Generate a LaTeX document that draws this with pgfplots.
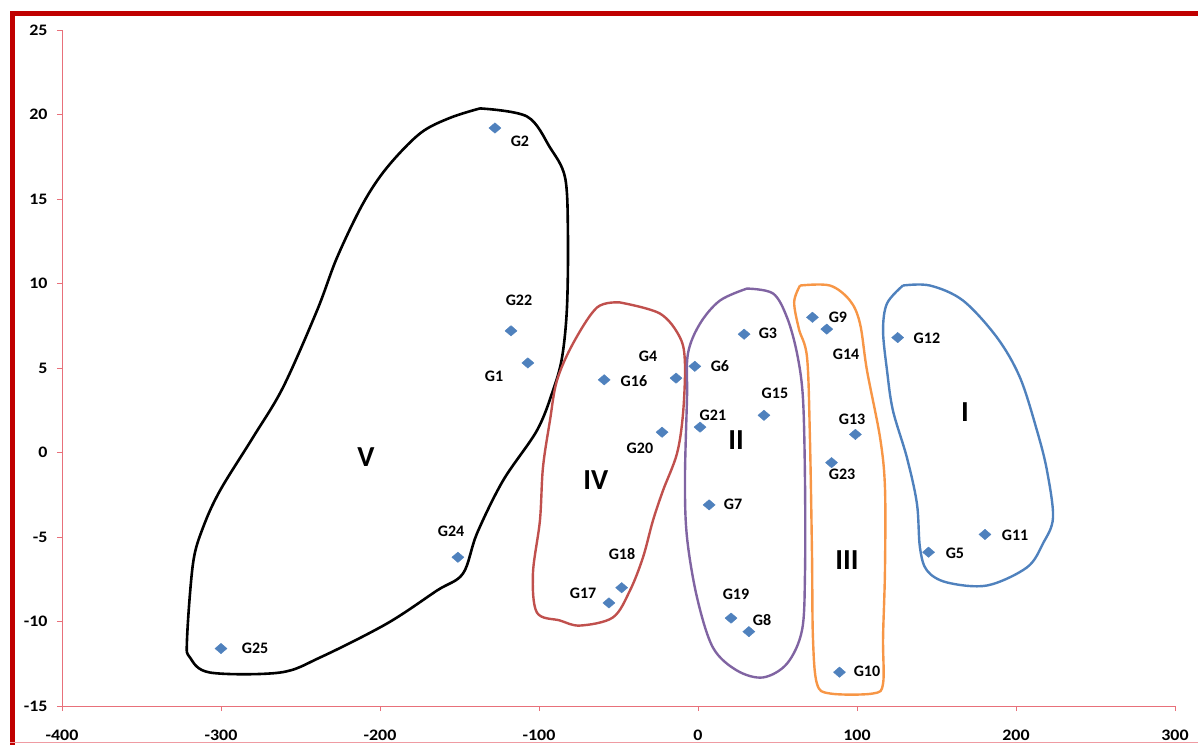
\documentclass[border=0pt]{standalone}
\usepackage{fontspec}
\setmainfont{Carlito}
\usepackage{pgfplots}
\pgfplotsset{compat=1.18}
\definecolor{ptblue}{HTML}{4F81BD}
\definecolor{cred}{HTML}{C0504D}
\definecolor{cpurple}{HTML}{8064A2}
\definecolor{corange}{HTML}{F79646}
\definecolor{cblue}{HTML}{4F81BD}
\definecolor{axred}{HTML}{E8707A}
\definecolor{frame}{HTML}{C00000}
\begin{document}
\begin{tikzpicture}
\useasboundingbox (-62bp,-39bp) rectangle (1136bp,706bp);
\draw[frame, line width=5bp] (-49.5bp,-60bp) -- (-49.5bp,692.5bp) -- (1160bp,692.5bp);
\draw[axred!70, line width=0.8bp] (-52bp,-36bp) -- (1160bp,-36bp);
\begin{axis}[
  scale only axis, width=1113bp, height=676bp,
  xmin=-400, xmax=300, ymin=-15, ymax=25,
  xtick distance=100, ytick distance=5,
  axis lines=left, axis line style={-, axred, line width=0.9bp},
  tick style={axred, line width=0.9bp},
  tick align=outside, major tick length=5bp,
  tick label style={font=\fontsize{16bp}{18bp}\selectfont\bfseries, text=black, xscale=1.12},
  xticklabel style={yshift=-15bp},
  yticklabel style={xshift=-5bp},
  /pgf/number format/assume math mode=true,
  clip=false,
  every axis plot/.append style={line join=round},
]
% cluster outlines
\addplot[black, line width=2.6bp, smooth, tension=0.55] coordinates {
(-137.1,20.36) (-107.5,19.88) (-93.1,18.05) (-83.6,16.27) (-81.8,12.96) (-82.4,8.58) (-85.5,5.62) (-91.2,3.67) (-101.3,1.30) (-122.6,-1.66) (-139.0,-4.79) (-147.8,-7.16) (-164.2,-8.17) (-195.6,-10.12) (-237.7,-12.13) (-262.9,-13.02) (-306.9,-13.02) (-319.5,-12.13) (-321.4,-11.12) (-317.6,-6.57) (-311.3,-4.44) (-300.6,-2.25) (-279.9,0.89) (-261.0,3.85) (-239.6,8.40) (-227.0,11.54) (-210.7,14.73) (-195.6,16.86) (-174.8,18.88) (-156,19.8) (-137.1,20.36)};
\addplot[cred, line width=2.4bp, smooth, tension=0.55] coordinates {
(-49.1,8.88) (-23.9,8.22) (-11.3,6.80) (-8.2,5.27) (-9.4,2.31) (-13.2,-0.06) (-22.0,-2.25) (-28.3,-4.02) (-34.6,-6.21) (-42.8,-8.17) (-53.5,-9.76) (-74.2,-10.24) (-86.8,-9.94) (-101.3,-9.47) (-103.8,-7.16) (-99.4,-4.02) (-97.5,-0.89) (-93.1,1.89) (-88.7,4.26) (-78.6,6.45) (-63.5,8.58) (-49.1,8.88)};
\addplot[cpurple, line width=2.4bp, smooth, tension=0.55] coordinates {
(30.8,9.70) (47.2,9.41) (56.0,7.99) (62.3,5.86) (66.0,3.25) (67.3,-1.66) (67.3,-7.16) (65.4,-10.53) (56.0,-12.49) (40.9,-13.31) (24.5,-12.90) (9.4,-11.54) (-0.6,-8.58) (-6.9,-5.03) (-8.2,-1.66) (-6.9,3.25) (-6.3,5.86) (1.3,7.63) (13.8,8.99) (30.8,9.70)};
\addplot[corange, line width=2.4bp, smooth, tension=0.55] coordinates {
(64.2,9.88) (83.0,9.88) (95.6,8.99) (101.9,7.63) (106.3,4.85) (114.5,0.89) (117.6,-2.07) (117.6,-6.98) (116.4,-10.95) (116.4,-13.67) (110.1,-14.26) (83.0,-14.26) (74.8,-13.67) (72.3,-10.95) (71.7,-5.98) (70.4,0.89) (68.6,5.62) (63.5,7.3) (60.5,8.9) (64.2,9.88)};
\addplot[cblue, line width=2.4bp, smooth, tension=0.55] coordinates {
(128.9,9.88) (145.9,9.88) (166.7,8.99) (188.1,6.80) (202.5,4.44) (213.2,1.30) (219.5,-1.07) (223.3,-3.85) (217.0,-5.38) (206.9,-6.80) (181.8,-7.87) (156.6,-7.69) (144.0,-6.98) (139.6,-5.62) (137.7,-3.02) (131.4,-0.30) (122.6,2.49) (118.9,4.85) (116.4,7.22) (118.9,8.82) (128.9,9.88)};
% points
\addplot[only marks, mark=diamond*, mark size=5.2bp, color=ptblue,
  every mark/.append style={xscale=1.55}] coordinates {
(-107,5.3) (-127.7,19.2) (29,7.0) (-13.8,4.4) (145,-5.9) (-2,5.1) (7,-3.1) (32,-10.6)
(72,8.0) (89,-13.0) (180.5,-4.85) (125.6,6.8) (99,1.07) (81,7.3) (41.5,2.2) (-59,4.3)
(-56,-8.9) (-48,-8.0) (20.8,-9.8) (-22.6,1.2) (1.3,1.5) (-117.6,7.2) (84,-0.6) (-151,-6.2) (-300,-11.6)};
% labels
\begin{scope}[every node/.style={font=\fontsize{16bp}{18bp}\selectfont\bfseries, inner sep=0pt}]
\node at (axis cs:-112,18.4) {G2};
\node at (axis cs:-112.6,9.0) {G22};
\node at (axis cs:-128.3,4.5) {G1};
\node at (axis cs:-155.3,-4.67) {G24};
\node at (axis cs:-278.6,-11.6) {G25};
\node at (axis cs:-40.3,4.2) {G16};
\node at (axis cs:-31.4,5.68) {G4};
\node at (axis cs:13.8,5.09) {G6};
\node at (axis cs:44,7.04) {G3};
\node at (axis cs:9.4,2.19) {G21};
\node at (axis cs:-36.5,0.24) {G20};
\node at (axis cs:48.4,3.49) {G15};
\node at (axis cs:88,7.99) {G9};
\node at (axis cs:93.1,5.8) {G14};
\node at (axis cs:144,6.75) {G12};
\node at (axis cs:96.9,1.95) {G13};
\node at (axis cs:90.6,-1.3) {G23};
\node at (axis cs:22,-3.08) {G7};
\node at (axis cs:-47.8,-5.98) {G18};
\node at (axis cs:-72.3,-8.34) {G17};
\node at (axis cs:23.9,-8.4) {G19};
\node at (axis cs:40.3,-9.94) {G8};
\node at (axis cs:106.3,-12.96) {G10};
\node at (axis cs:161.6,-5.98) {G5};
\node at (axis cs:199.4,-4.91) {G11};
\end{scope}
\begin{scope}[every node/.style={font=\fontsize{29bp}{32bp}\selectfont\bfseries, inner sep=0pt}]
\node at (axis cs:-208.8,-0.3) {V};
\node at (axis cs:-64.2,-1.66) {IV};
\node at (axis cs:23.9,0.71) {II};
\node at (axis cs:93.7,-6.39) {III};
\node at (axis cs:167.9,2.37) {I};
\end{scope}
\end{axis}
\end{tikzpicture}
\end{document}
